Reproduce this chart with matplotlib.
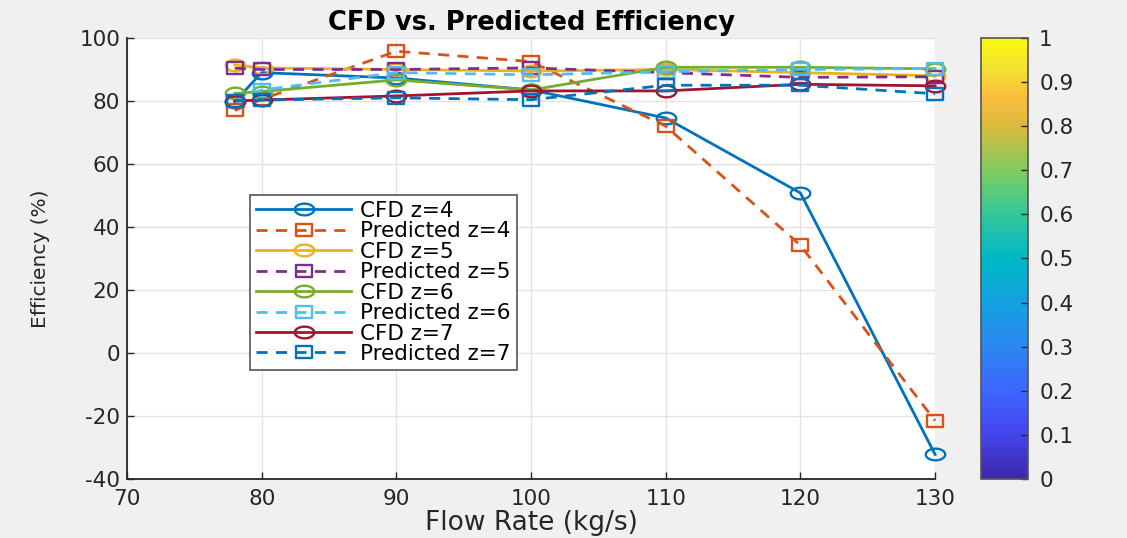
import matplotlib
matplotlib.use("Agg")
import matplotlib.pyplot as plt
import numpy as np
from matplotlib.colors import LinearSegmentedColormap
from matplotlib.path import Path
from matplotlib.cm import ScalarMappable

plt.rcParams["font.family"] = ["DejaVu Sans"]
plt.rcParams["axes.unicode_minus"] = False

# flow rates (kg/s)
flow = [78, 80, 90, 100, 110, 120, 130]

# efficiencies (%)
cfd_z4 = [79.8, 89.0, 87.3, 83.5, 74.6, 50.8, -32.2]
pred_z4 = [77.0, 80.5, 95.8, 92.5, 72.0, 34.2, -21.5]
cfd_z5 = [91.4, 90.5, 90.0, 89.5, 90.0, 89.0, 88.0]
pred_z5 = [90.4, 90.0, 90.0, 90.5, 89.0, 87.5, 87.7]
cfd_z6 = [82.4, 83.0, 86.7, 83.5, 90.7, 90.7, 90.2]
pred_z6 = [80.0, 83.5, 89.0, 88.3, 89.3, 90.0, 90.3]
cfd_z7 = [80.0, 80.3, 81.6, 83.2, 83.2, 85.3, 84.8]
pred_z7 = [80.0, 80.3, 81.0, 80.4, 85.0, 85.0, 82.3]

labels = ["CFD z=4", "Predicted z=4", "CFD z=5", "Predicted z=5",
          "CFD z=6", "Predicted z=6", "CFD z=7", "Predicted z=7"]
series = [cfd_z4, pred_z4, cfd_z5, pred_z5, cfd_z6, pred_z6, cfd_z7, pred_z7]
colors = ["#0072BD", "#D95319", "#EDB120", "#7E2F8E",
          "#77AC30", "#4DBEEE", "#A2142F", "#0072BD"]

# the source picture is stretched sideways, so markers are wide
t = np.linspace(0, 2 * np.pi, 60)
ellipse = Path(np.column_stack([np.cos(t), 0.6 * np.sin(t)]), closed=True)
rect = Path([(-1, -0.75), (1, -0.75), (1, 0.75), (-1, 0.75), (-1, -0.75)], closed=True)

# parula-like colormap
parula = LinearSegmentedColormap.from_list("parula", [
    (0.00, (0.2422, 0.1504, 0.6603)),
    (0.10, (0.2726, 0.2670, 0.9300)),
    (0.20, (0.2440, 0.4000, 0.9930)),
    (0.30, (0.1700, 0.5300, 0.9400)),
    (0.40, (0.0800, 0.6300, 0.8800)),
    (0.50, (0.0000, 0.7200, 0.7800)),
    (0.60, (0.2000, 0.7800, 0.6000)),
    (0.70, (0.5000, 0.8000, 0.3800)),
    (0.80, (0.8500, 0.7300, 0.2400)),
    (0.87, (0.9900, 0.7400, 0.2400)),
    (0.93, (0.9600, 0.8800, 0.2000)),
    (1.00, (0.9763, 0.9831, 0.0538)),
])

fig = plt.figure(figsize=(11.27, 5.38), dpi=100, facecolor="#f0f0f0")
ax = fig.add_axes([0.1127, 0.1097, 0.717, 0.8197])
ax.set_facecolor("white")

for i, (lab, y, c) in enumerate(zip(labels, series, colors)):
    if i % 2 == 0:
        ax.plot(flow, y, color=c, lw=2, marker=ellipse, ms=14, mfc="none",
                mew=1.7, label=lab, clip_on=False)
    else:
        ax.plot(flow, y, color=c, lw=2, ls=(0, (4, 3)), marker=rect, ms=11.5,
                mfc="none", mew=1.7, label=lab, clip_on=False)

ax.set_xlim(70, 130)
ax.set_ylim(-40, 100)
ax.set_xticks(np.arange(70, 131, 10))
ax.set_yticks(np.arange(-40, 101, 20))
ax.grid(True, color="#e3e3e3", lw=1)
ax.set_axisbelow(True)
for s in ["top", "right"]:
    ax.spines[s].set_visible(False)
for s in ["left", "bottom"]:
    ax.spines[s].set_color("#262626")
    ax.spines[s].set_linewidth(1.3)
ax.tick_params(direction="in", length=5, width=1, colors="#262626",
               labelsize=15.5, labelcolor="#262626")
ax.tick_params(axis="x", pad=7)
ax.tick_params(axis="y", pad=5)

ax.set_title("CFD vs. Predicted Efficiency", fontsize=18.5, fontweight="bold",
             pad=6, color="black")
ax.set_xlabel("Flow Rate (kg/s)", fontsize=19, color="#262626", labelpad=1)
ax.set_ylabel("Efficiency (%)", fontsize=14.5, color="#262626")
ax.yaxis.set_label_coords(-0.095, 0.5)

leg = ax.legend(loc="upper left", bbox_to_anchor=(0.152, 0.645),
                fontsize=15.5, labelspacing=0.02, handlelength=4.4,
                handletextpad=0.4, borderpad=0.3, borderaxespad=0,
                fancybox=False, framealpha=1, edgecolor="#555555")
leg.get_frame().set_linewidth(1.2)

cax = fig.add_axes([0.8705, 0.1097, 0.0417, 0.8197])
cb = fig.colorbar(ScalarMappable(cmap=parula), cax=cax)
cb.set_ticks(np.arange(0, 1.01, 0.1))
cb.set_ticklabels(["0", "0.1", "0.2", "0.3", "0.4", "0.5", "0.6", "0.7",
                   "0.8", "0.9", "1"])
cb.outline.set_edgecolor("#555555")
cb.outline.set_linewidth(1.2)
cax.tick_params(direction="in", length=5, width=1, colors="#262626",
                labelsize=15.5, pad=8)

fig.savefig("out.png", dpi=100, facecolor=fig.get_facecolor())
